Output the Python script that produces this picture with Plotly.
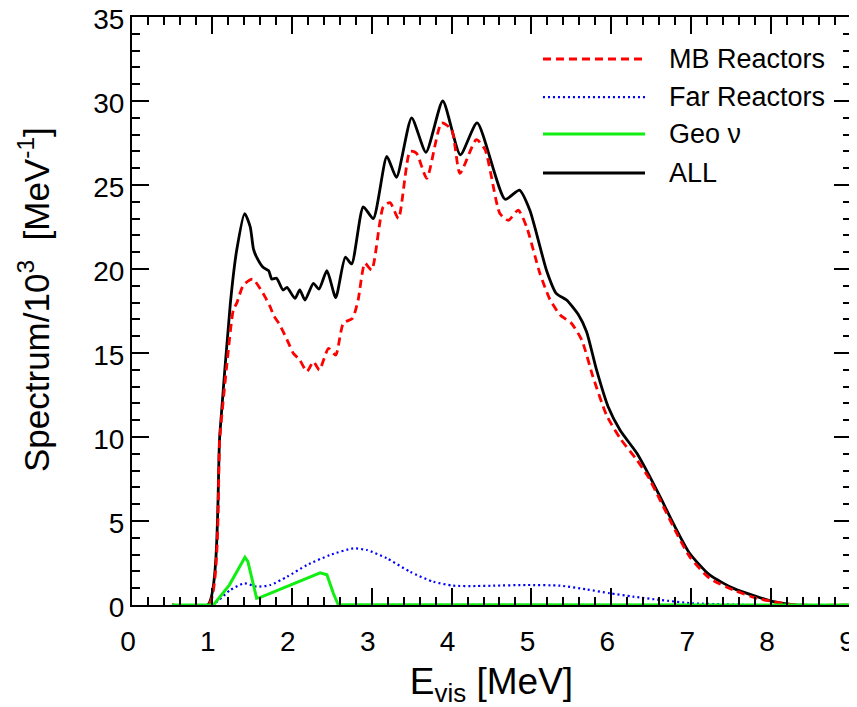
import plotly.graph_objects as go

# ---- data (E_vis in MeV, spectrum in 10^3 / MeV) ----
all_x = [0.5, 0.95, 1.10, 1.23, 1.31, 1.41, 1.48, 1.52, 1.56, 1.64, 1.71, 1.75, 1.81, 1.89, 1.94,
         2.04, 2.10, 2.165, 2.27, 2.34, 2.44, 2.55, 2.67, 2.75, 2.895, 3.02, 3.19, 3.31, 3.50,
         3.68, 3.89, 4.11, 4.32, 4.67, 4.85, 4.98, 5.19, 5.31, 5.44, 5.59, 5.69, 5.815, 5.96,
         6.11, 6.32, 6.46, 6.61, 6.775, 6.98, 7.23, 7.53, 7.82, 8.03, 8.3, 9.0]
all_y = [0, 0, 10.2, 17.9, 21.1, 23.3, 22.5, 21.2, 20.7, 20.1, 19.9, 19.4, 19.45, 18.75, 18.9,
         18.25, 18.75, 18.15, 19.15, 18.8, 19.9, 18.3, 20.7, 20.3, 23.7, 23.0, 26.7, 25.45, 29.0,
         26.95, 30.0, 26.8, 28.7, 24.15, 24.7, 23.5, 19.9, 18.55, 18.15, 17.26, 16.27, 13.99, 11.8,
         10.4, 9.03, 7.84, 6.45, 4.86, 3.08, 1.79, 0.99, 0.5, 0.2, 0, 0]

mb_x = [0.5, 0.96, 1.10, 1.185, 1.27, 1.31, 1.395, 1.51, 1.64, 1.73, 1.77, 1.85, 1.94, 2.02, 2.10,
        2.19, 2.27, 2.345, 2.46, 2.55, 2.645, 2.76, 2.83, 2.915, 3.0, 3.145, 3.23, 3.335, 3.48,
        3.56, 3.69, 3.875, 4.0, 4.105, 4.31, 4.42, 4.605, 4.71, 4.835, 4.94, 5.105, 5.23, 5.36,
        5.50, 5.63, 5.77, 5.94, 6.11, 6.32, 6.46, 6.61, 6.775, 6.98, 7.23, 7.53, 7.82, 8.03, 8.3, 9.0]
mb_y = [0, 0, 10.0, 14.2, 17.6, 17.95, 19.05, 19.4, 18.55, 17.75, 17.26, 16.67, 15.8, 14.98, 14.58,
        13.9, 14.48, 13.99, 15.28, 14.88, 16.77, 17.06, 18.15, 20.34, 19.94, 23.7, 23.95, 23.0, 27.0,
        26.9, 25.4, 28.7, 28.3, 25.7, 27.7, 27.1, 23.3, 22.9, 23.5, 22.5, 19.75, 18.2, 17.26,
        16.77, 15.77, 13.59, 11.3, 9.92, 8.63, 7.64, 6.25, 4.67, 2.88, 1.59, 0.89, 0.4, 0.2, 0, 0]

far_x = [0.5, 1.0, 1.23, 1.41, 1.56, 1.73, 1.94, 2.19, 2.48, 2.77, 2.94, 3.19, 3.48, 3.77, 4.02,
         4.31, 4.52, 4.94, 5.36, 5.69, 5.98, 6.27, 6.61, 7.02, 7.44, 7.74, 9.0]
far_y = [0, 0, 0.89, 1.29, 1.09, 1.19, 1.68, 2.38, 2.98, 3.37, 3.27, 2.78, 1.98, 1.39, 1.15,
         1.13, 1.15, 1.19, 1.15, 0.93, 0.7, 0.5, 0.3, 0.1, 0.04, 0, 0]

geo_x = [0.5, 1.02, 1.22, 1.414, 1.45, 1.52, 1.56, 1.60, 1.94, 2.19, 2.355, 2.44, 2.52, 2.58, 9.0]
geo_y = [0, 0, 1.2, 2.84, 2.6, 1.09, 0.4, 0.44, 1.09, 1.59, 1.92, 1.8, 0.7, 0.03, 0]

legend_names = ["MB Reactors", "Far Reactors", "Geo \u03bd", "ALL"]
x_title = "E<sub>vis</sub> [MeV]"
y_title = "Spectrum/10<sup>3</sup>  [MeV<sup>-1</sup>]"

FONT = "Liberation Sans, Arial, Helvetica, sans-serif"

fig = go.Figure()
fig.add_trace(go.Scatter(x=all_x, y=all_y, mode="lines", name="ALL",
                         line=dict(color="black", width=2.8, shape="spline", smoothing=0.6)))
fig.add_trace(go.Scatter(x=mb_x, y=mb_y, mode="lines", name="MB Reactors",
                         line=dict(color="#ff0000", width=2.8, dash="8px,5px", shape="spline", smoothing=0.6)))
fig.add_trace(go.Scatter(x=far_x, y=far_y, mode="lines", name="Far Reactors",
                         line=dict(color="#0000ff", width=2.2, dash="2px,3px", shape="spline", smoothing=0.6)))
fig.add_trace(go.Scatter(x=geo_x, y=geo_y, mode="lines", name="Geo \u03bd",
                         line=dict(color="#11ee11", width=3)))

# custom legend (long line samples, as in the reference)
leg_styles = [dict(color="#ff0000", width=2.8, dash="8px,5px"),
              dict(color="#0000ff", width=2.2, dash="2px,3px"),
              dict(color="#11ee11", width=3),
              dict(color="black", width=2.8)]
leg_y = [0.9286, 0.8639, 0.801, 0.7347]
for name, st, yy in zip(legend_names, leg_styles, leg_y):
    fig.add_shape(type="line", xref="paper", yref="paper", x0=0.5716, x1=0.7135, y0=yy, y1=yy,
                  line=st)
    fig.add_annotation(xref="paper", yref="paper", x=0.744, y=yy, text=name, showarrow=False,
                       xanchor="left", yanchor="middle", font=dict(family=FONT, size=27, color="black"))

# y-axis title (placed toward the top, as in the reference)
fig.add_annotation(xref="paper", yref="paper", x=0, y=0.5, xanchor="center", yanchor="middle",
                   xshift=-98, yshift=11, textangle=-90, text=y_title, showarrow=False,
                   font=dict(family=FONT, size=35, color="black"))

axis_common = dict(showline=True, linecolor="black", linewidth=2, mirror="allticks",
                   ticks="inside", ticklen=17, tickwidth=1.5, tickcolor="black",
                   showgrid=False, zeroline=False, automargin=False,
                   ticklabeloverflow="allow",
                   tickfont=dict(family=FONT, size=28, color="black"))

fig.update_xaxes(range=[0, 9], dtick=1, tick0=0,
                 minor=dict(dtick=0.2, ticks="inside", ticklen=8, tickwidth=1.5, tickcolor="black", showgrid=False),
                 title=dict(text=x_title, font=dict(family=FONT, size=37, color="black"), standoff=13),
                 ticklabelstandoff=10, ticklabelshift=-4,
                 **axis_common)
fig.update_yaxes(range=[0, 35], dtick=5, tick0=0,
                 minor=dict(dtick=1, ticks="inside", ticklen=8, tickwidth=1.5, tickcolor="black", showgrid=False),
                 ticklabelshift=2,
                 **axis_common)

# page body has an 8px margin: offset the figure so the plot frame lands at x 132-851, y 17-605
fig.update_layout(width=849, height=699, showlegend=False,
                  paper_bgcolor="white", plot_bgcolor="white",
                  margin=dict(l=124, r=6, t=9, b=102),
                  font=dict(family=FONT, color="black"))

fig.write_html("out.html")
